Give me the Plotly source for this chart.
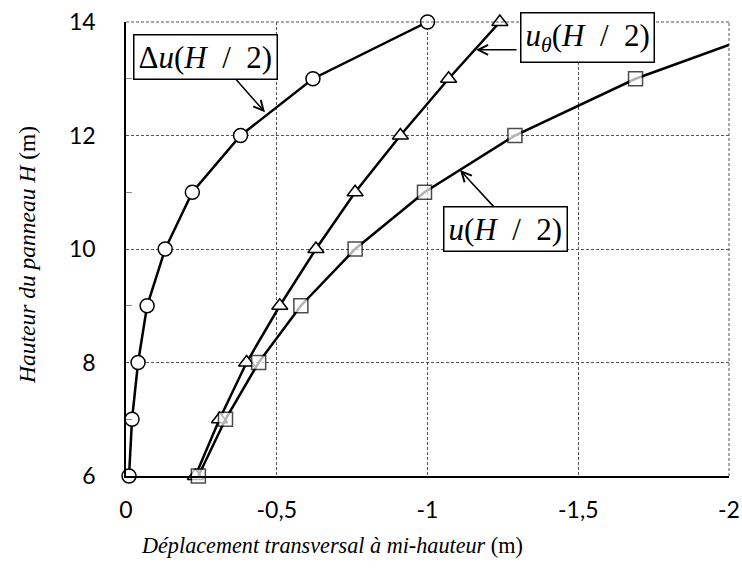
import plotly.graph_objects as go

# Data
hauteur = [6, 7, 8, 9, 10, 11, 12, 13, 14]
delta_u = [-0.01, -0.02, -0.04, -0.07, -0.13, -0.22, -0.38, -0.62, -1.00]
u_theta = [-0.23, -0.31, -0.40, -0.51, -0.63, -0.76, -0.91, -1.07, -1.24]
u_total = [-0.24, -0.33, -0.44, -0.58, -0.76, -0.99, -1.29, -1.69, -2.21]

x_ticks = [0, -0.5, -1, -1.5, -2]
x_labels = ["0", "-0,5", "-1", "-1,5", "-2"]
y_ticks = [6, 8, 10, 12, 14]

SERIF = "Liberation Serif"
SANS = "Lato"

fig = go.Figure()

def series(x, y, symbol, sizes):
    fig.add_trace(go.Scatter(
        x=x, y=y, mode="lines+markers",
        line=dict(color="black", width=2.5),
        marker=dict(symbol=symbol, size=sizes, color="#ffffff",
                    line=dict(color="black", width=1.5)),
        cliponaxis=False, showlegend=False,
    ))

series(delta_u, hauteur, "circle", 14)
series(u_theta, hauteur, "triangle-up", 14)
# last point lies outside the axis range (clipped in the reference)
series(u_total, hauteur, "square", [14] * (len(u_total) - 1) + [0])

grid = dict(showgrid=True, gridcolor="#555555", gridwidth=1, griddash="3px,2px")

fig.update_xaxes(
    range=[0, -2], tickvals=x_ticks, ticktext=x_labels,
    showline=True, linecolor="black", linewidth=1.5,
    ticks="", ticklabelstandoff=13, zeroline=False, automargin=False,
    ticklabeloverflow="allow",
    tickfont=dict(family=SANS, size=23, color="black"), **grid,
)
fig.update_yaxes(
    range=[6, 14], tickvals=y_ticks,
    showline=True, linecolor="black", linewidth=1.5,
    ticks="", ticklabelstandoff=24, zeroline=False, automargin=False,
    ticklabeloverflow="allow",
    tickfont=dict(family=SANS, size=23, color="black"),
    minor=dict(ticks="inside", ticklen=6, tickcolor="#888888", tickvals=[7, 9, 11, 13], showgrid=False),
    **grid,
)

# dashed top and right borders
fig.add_shape(type="line", xref="paper", yref="paper", x0=0, x1=1, y0=1, y1=1,
              line=dict(color="#555555", width=1, dash="3px,2px"))
fig.add_shape(type="line", xref="paper", yref="paper", x0=1, x1=1, y0=0, y1=1,
              line=dict(color="#555555", width=1, dash="3px,2px"))

box = dict(showarrow=False, bgcolor="white", bordercolor="black", borderwidth=1.5,
           borderpad=4, font=dict(family=SERIF, size=31, color="black"))
fig.add_annotation(x=-0.265, y=13.38, text="Δ<i>u</i>(<i>H</i>  /  2)", **box)
fig.add_annotation(x=-1.532, y=13.72, text="<i>u</i><sub><i>θ</i></sub>(<i>H</i>  /  2)", **box)
fig.add_annotation(x=-1.26, y=10.35, text="<i>u</i>(<i>H</i>  /  2)", **box)

arrow = dict(text="", showarrow=True, arrowhead=5, arrowsize=1.3, arrowwidth=1.5,
             arrowcolor="black", axref="pixel", ayref="pixel")
fig.add_annotation(x=-0.461, y=12.41, ax=-30, ay=-34, **arrow)
fig.add_annotation(x=-1.161, y=13.51, ax=42, ay=0, **arrow)
fig.add_annotation(x=-1.108, y=11.39, ax=35, ay=38, **arrow)

# axis titles
fig.add_annotation(xref="paper", yref="paper", x=(332 - 126) / 603, y=-(545 - 476) / 454,
                   xanchor="center", yanchor="middle",
                   text="<i>Déplacement transversal à mi-hauteur</i> (m)", showarrow=False,
                   font=dict(family=SERIF, size=22.2, color="black"))
fig.add_annotation(xref="paper", yref="paper", x=-(126 - 27) / 603, y=(476 - 255) / 454,
                   xanchor="center", yanchor="middle",
                   text="<i>Hauteur du panneau H</i> (m)", textangle=-90, showarrow=False,
                   font=dict(family=SERIF, size=23.5, color="black"))

fig.update_layout(
    width=742, height=568,
    margin=dict(l=126, r=13, t=22, b=92),
    plot_bgcolor="white", paper_bgcolor="white",
)

# remove the browser's default 8px body margin so the figure fills the window
fig.write_html("out.html", config={"displayModeBar": False},
               post_script="document.body.style.margin='0';document.body.style.overflow='hidden';")
